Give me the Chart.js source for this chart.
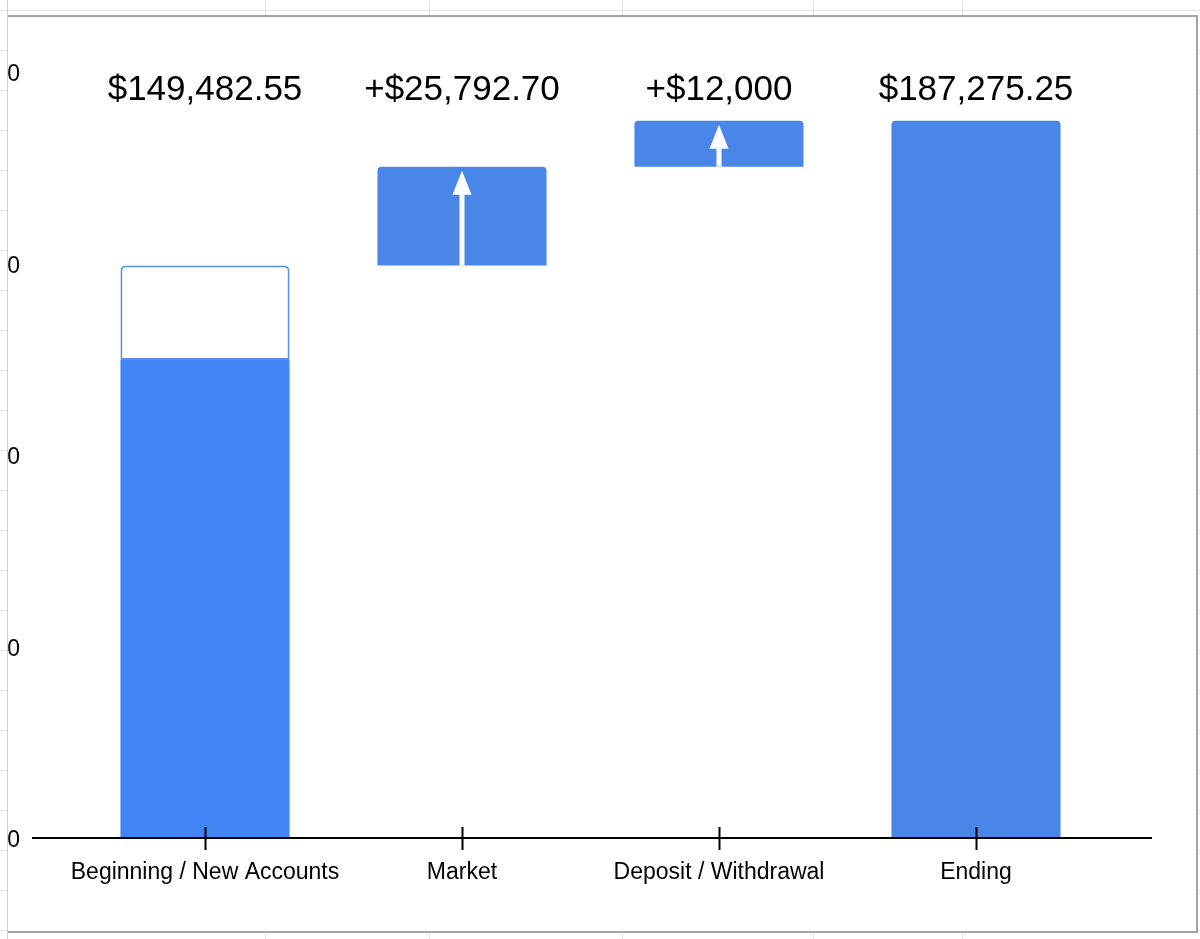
<!DOCTYPE html>
<html>
<head>
  <title>Waterfall</title>
  <script src="https://cdn.jsdelivr.net/npm/chart.js"></script>
  <style>
    body {
      margin: 0;
      width: 1200px;
      height: 939px;
      overflow: hidden;
      background-color: #fff;
      position: relative;
    }
    /* spreadsheet rows behind the chart */
    .rows {
      position: absolute;
      left: 0;
      top: 10px;
      width: 1200px;
      height: 929px;
      background-image: linear-gradient(#e3e3e3 0 1px, transparent 1px);
      background-size: 100% 40px;
    }
    .col {
      position: absolute;
      top: 0;
      width: 1px;
      height: 939px;
      background-color: #e3e3e3;
    }
    .chart-box {
      position: absolute;
      left: 8px;
      top: 15px;
      width: 1188px;
      height: 914px;
      background-color: #fff;
      border-top: 2px solid #a3a3a3;
      border-right: 2px solid #a3a3a3;
      border-bottom: 2px solid #a3a3a3;
    }
    .clip {
      position: absolute;
      left: 8px;
      top: 0;
      width: 1192px;
      height: 939px;
      overflow: hidden;
    }
    .chart-container {
      position: absolute;
      left: -8px;
      top: 0;
      width: 1200px;
      height: 939px;
    }
  </style>
</head>
<body>
  <div class="rows"></div>
  <div class="col" style="left:265px"></div>
  <div class="col" style="left:429px"></div>
  <div class="col" style="left:622px"></div>
  <div class="col" style="left:813px"></div>
  <div class="col" style="left:962px"></div>
  <div class="chart-box"></div>
  <div class="col" style="left:7px; background-color:#d2d2d2"></div>
  <div class="clip">
    <div class="chart-container">
      <canvas id="waterfall"></canvas>
    </div>
  </div>

  <script>
    // data
    const categories = ['Beginning / New Accounts', 'Market', 'Deposit / Withdrawal', 'Ending'];
    const beginningParts = [124800, 24682.55];   // existing balance, new accounts
    const changeValues = [25792.70, 12000];       // market, deposit / withdrawal
    const valueLabels = ['$149,482.55', '+$25,792.70', '+$12,000', '$187,275.25'];
    const yTicks = [0, 50000, 100000, 150000, 200000];

    const FONT = "'Liberation Sans', Arial, sans-serif";

    // build the floating bars
    const beginning = beginningParts[0] + beginningParts[1];
    let running = beginning;
    const changeBars = [null];
    for (let i = 0; i < changeValues.length; i++) {
      changeBars.push([running, running + changeValues[i]]);
      running += changeValues[i];
    }
    changeBars.push(null);
    const ending = running;

    const existingBars = [[0, beginningParts[0]], null, null, null];
    const newAccountBars = [[beginningParts[0], beginning], null, null, null];
    const endingBars = [null, null, null, [0, ending]];

    // arrows, axis line, tick marks and value labels
    const decorations = {
      id: 'decorations',
      afterDatasetsDraw(chart) {
        const ctx = chart.ctx;
        const x = chart.scales.x;
        const y = chart.scales.y;
        const area = chart.chartArea;

        // white arrows in the change bars
        const meta = chart.getDatasetMeta(2);
        ctx.save();
        ctx.fillStyle = '#fff';
        meta.data.forEach((bar, i) => {
          if (!changeBars[i]) return;
          const tip = bar.y + 4;
          const headH = 24;
          ctx.fillRect(bar.x - 2.5, tip + headH - 1, 5, bar.base - (tip + headH - 1));
          ctx.beginPath();
          ctx.moveTo(bar.x, tip);
          ctx.lineTo(bar.x + 9.5, tip + headH);
          ctx.lineTo(bar.x - 9.5, tip + headH);
          ctx.closePath();
          ctx.fill();
        });
        ctx.restore();

        // baseline and tick marks
        const base = y.getPixelForValue(0);
        ctx.save();
        ctx.strokeStyle = '#000';
        ctx.lineWidth = 2;
        ctx.beginPath();
        ctx.moveTo(area.left - 44.5, base);
        ctx.lineTo(area.right + 47.5, base);
        categories.forEach((c, i) => {
          const px = Math.round(x.getPixelForValue(i)) + 0.5;
          ctx.moveTo(px, base - 11);
          ctx.lineTo(px, base + 12);
        });
        ctx.stroke();

        // value labels along the top
        ctx.fillStyle = '#000';
        ctx.font = '35px ' + FONT;
        ctx.textAlign = 'center';
        ctx.textBaseline = 'middle';
        valueLabels.forEach((t, i) => {
          ctx.fillText(t, x.getPixelForValue(i), area.top + 18);
        });
        ctx.restore();
      }
    };

    const ctx = document.getElementById('waterfall').getContext('2d');
    const waterfall = new Chart(ctx, {
      type: 'bar',
      data: {
        labels: categories,
        datasets: [
          {
            label: 'Existing',
            data: existingBars,
            backgroundColor: '#4285f4',
            borderWidth: 0
          },
          {
            label: 'New accounts',
            data: newAccountBars,
            backgroundColor: '#ffffff',
            borderColor: '#5a8ee8',
            borderWidth: 2,
            borderSkipped: false,
            borderRadius: { topLeft: 5, topRight: 5, bottomLeft: 0, bottomRight: 0 }
          },
          {
            label: 'Change',
            data: changeBars,
            backgroundColor: '#4a86e8',
            borderWidth: 0,
            borderRadius: { topLeft: 4, topRight: 4, bottomLeft: 0, bottomRight: 0 }
          },
          {
            label: 'Ending',
            data: endingBars,
            backgroundColor: '#4a86e8',
            borderWidth: 0,
            borderRadius: { topLeft: 4, topRight: 4, bottomLeft: 0, bottomRight: 0 }
          }
        ]
      },
      options: {
        responsive: true,
        maintainAspectRatio: false,
        animation: false,
        datasets: {
          bar: {
            grouped: false,
            categoryPercentage: 1,
            barPercentage: 0.658
          }
        },
        layout: {
          padding: { top: 72, right: 95.5, bottom: 0, left: 0 }
        },
        plugins: {
          legend: { display: false },
          tooltip: { enabled: false }
        },
        scales: {
          x: {
            grid: { display: false, drawTicks: false },
            border: { display: false },
            ticks: {
              color: '#000',
              padding: 21,
              font: { family: FONT, size: 23 },
              maxRotation: 0,
              autoSkip: false
            },
            afterFit(scale) {
              scale.height = 101;
            }
          },
          y: {
            min: 0,
            max: 200000,
            afterBuildTicks(scale) {
              scale.ticks = yTicks.map(v => ({ value: v }));
            },
            grid: { display: false, drawTicks: false },
            border: { display: false },
            ticks: {
              color: '#000',
              padding: 56.5,
              labelOffset: 3,
              font: { family: FONT, size: 23 },
              callback: v => '$' + v.toLocaleString('en-US')
            },
            afterFit(scale) {
              scale.width = 76.5;
            }
          }
        }
      },
      plugins: [decorations]
    });
  </script>
</body>
</html>
